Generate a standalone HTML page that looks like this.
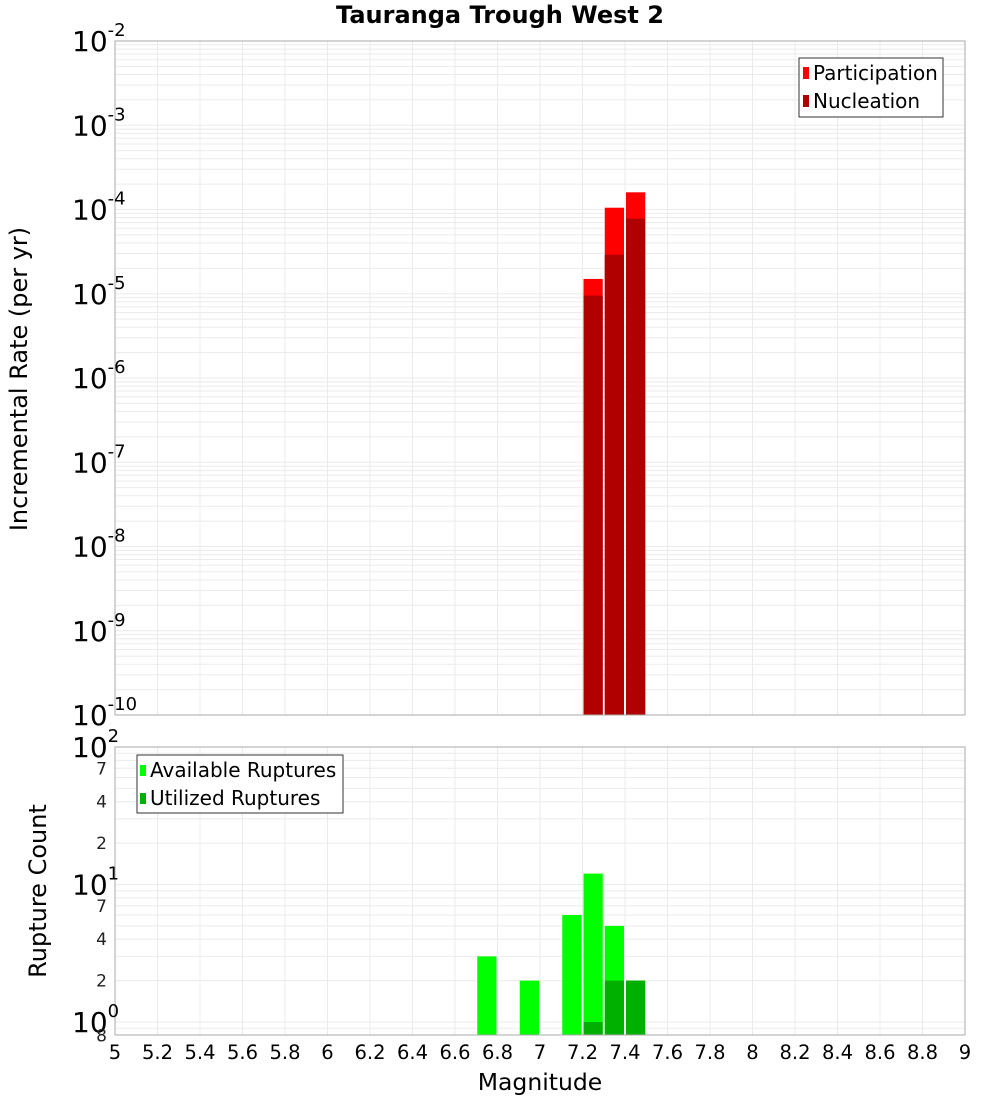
<!DOCTYPE html>
<html><head><meta charset="utf-8"><style>
body{margin:0;background:#fff;}
svg text{font-family:"DejaVu Sans","Liberation Sans",sans-serif;}
</style></head><body>
<svg id="c" width="1000" height="1100" xmlns="http://www.w3.org/2000/svg"></svg>
<script>
const binCenters = [7.25, 7.35, 7.45];
const participation = [1.5e-5, 1.05e-4, 1.6e-4];
const nucleation = [9.5e-6, 2.9e-5, 7.8e-5];
const countCenters = [6.75, 6.95, 7.15, 7.25, 7.35, 7.45];
const available = [3, 2, 6, 12, 5, 2];
const utilCenters = [7.25, 7.35, 7.45];
const utilized = [1, 2, 2];
const xTicks = [5,5.2,5.4,5.6,5.8,6,6.2,6.4,6.6,6.8,7,7.2,7.4,7.6,7.8,8,8.2,8.4,8.6,8.8,9];
const topExps = [-2,-3,-4,-5,-6,-7,-8,-9,-10];

const NS='http://www.w3.org/2000/svg';
const svg=document.getElementById('c');
function mk(t,a,p){const e=document.createElementNS(NS,t);for(const k in a)e.setAttribute(k,a[k]);(p||svg).appendChild(e);return e;}
const L=115,R=965;
const X=v=>L+(v-5)/4*(R-L);
const T0=41,T1=715;
const YT=v=>T0+(-2-Math.log10(v))/8*(T1-T0);
const B0=747,B1=1035,BDEC=137.5;
const YB=v=>1022-Math.log10(v)*BDEC;

const gTop=mk('g',{});


for(let e=-10;e<-2;e++)for(let m=1;m<10;m++){const y=YT(m*Math.pow(10,e));if(y<T0||y>T1)continue;mk('line',{x1:L,x2:R,y1:y,y2:y,stroke:'#ebebeb','stroke-width':1},gTop);}
xTicks.forEach(t=>{const x=X(t);mk('line',{x1:x,x2:x,y1:T0,y2:T1,stroke:'#ebebeb'},gTop);});
const gB=mk('g',{});


for(let e=-1;e<2;e++)for(let m=1;m<10;m++){const y=YB(m*Math.pow(10,e));if(y<B0||y>B1)continue;mk('line',{x1:L,x2:R,y1:y,y2:y,stroke:'#ebebeb'},gB);}
xTicks.forEach(t=>{const x=X(t);mk('line',{x1:x,x2:x,y1:B0,y2:B1,stroke:'#ebebeb'},gB);});

binCenters.forEach((c,i)=>{
  const x0=X(c-0.05)+1,x1=X(c+0.05)-1;
  let r=mk('rect',{x:x0,y:YT(participation[i]),width:x1-x0,height:T1-YT(participation[i]),fill:'#ff0000'});
  
  
  r=mk('rect',{x:x0,y:YT(nucleation[i]),width:x1-x0,height:T1-YT(nucleation[i]),fill:'#b00000'});
  
  
});
countCenters.forEach((c,i)=>{
  const x0=X(c-0.05)+1,x1=X(c+0.05)-1;
  const r=mk('rect',{x:x0,y:YB(available[i]),width:x1-x0,height:B1-YB(available[i]),fill:'#00ff00'});
  
  
});
utilCenters.forEach((c,i)=>{
  const x0=X(c-0.05)+1,x1=X(c+0.05)-1;
  const r=mk('rect',{x:x0,y:YB(utilized[i]),width:x1-x0,height:B1-YB(utilized[i]),fill:'#00b000'});
  
  
});

let f=mk('rect',{x:L,y:T0,width:R-L,height:T1-T0,fill:'none',stroke:'#aaa'});


f=mk('rect',{x:L,y:B0,width:R-L,height:B1-B0,fill:'none',stroke:'#aaa'});



topExps.forEach(e=>{
  const y=YT(Math.pow(10,e));
  const t=mk('text',{x:72,y:y+10,'font-size':28,fill:'#000'});
  
  
  t.innerHTML='10<tspan dy="-15" font-size="18">'+e+'</tspan>';
});
[[100,'2'],[10,'1'],[1,'0']].forEach(([v,s])=>{
  const y=YB(v);
  const t=mk('text',{x:72,y:y+10,'font-size':28,fill:'#000'});
  
  
  t.innerHTML='10<tspan dy="-15" font-size="18">'+s+'</tspan>';
});
[[70,'7'],[40,'4'],[20,'2'],[7,'7'],[4,'4'],[2,'2'],[0.8,'8']].forEach(([v,s])=>{
  const y=YB(v);
  const t=mk('text',{x:107,y:y+6,'font-size':17,'text-anchor':'end',fill:'#222'});
  
  
  t.textContent=s;
});
xTicks.forEach(v=>{
  const t=mk('text',{x:X(v),y:1059,'font-size':19.5,'text-anchor':'middle',fill:'#000'});
  
  
  t.textContent=String(v);
});
</script>
<svg width="1000" height="1100" style="position:absolute;left:0;top:0" xmlns="http://www.w3.org/2000/svg">
<text x="500" y="23" font-size="24" font-weight="bold" text-anchor="middle" font-family="DejaVu Sans,Liberation Sans,sans-serif">Tauranga Trough West 2</text>
<text x="540" y="1090" font-size="23.5" text-anchor="middle" font-family="DejaVu Sans,Liberation Sans,sans-serif">Magnitude</text>
<text transform="translate(27,379) rotate(-90)" font-size="24" text-anchor="middle" font-family="DejaVu Sans,Liberation Sans,sans-serif">Incremental Rate (per yr)</text>
<text transform="translate(46,891) rotate(-90)" font-size="24" text-anchor="middle" font-family="DejaVu Sans,Liberation Sans,sans-serif">Rupture Count</text>
<g font-family="DejaVu Sans,Liberation Sans,sans-serif" font-size="20">
<rect x="799" y="58" width="144" height="59" fill="#fff" stroke="#333"/>
<rect x="803" y="67" width="6" height="12" fill="#ff0000"/>
<text x="813" y="80">Participation</text>
<rect x="803" y="95" width="6" height="12" fill="#b00000"/>
<text x="813" y="108">Nucleation</text>
</g>
<g font-family="DejaVu Sans,Liberation Sans,sans-serif" font-size="20">
<rect x="137" y="755" width="206" height="58" fill="#fff" stroke="#333"/>
<rect x="140" y="765" width="6" height="11" fill="#00ff00"/>
<text x="150" y="777">Available Ruptures</text>
<rect x="140" y="793" width="6" height="11" fill="#00b000"/>
<text x="150" y="805">Utilized Ruptures</text>
</g>
</svg>
</body></html>
